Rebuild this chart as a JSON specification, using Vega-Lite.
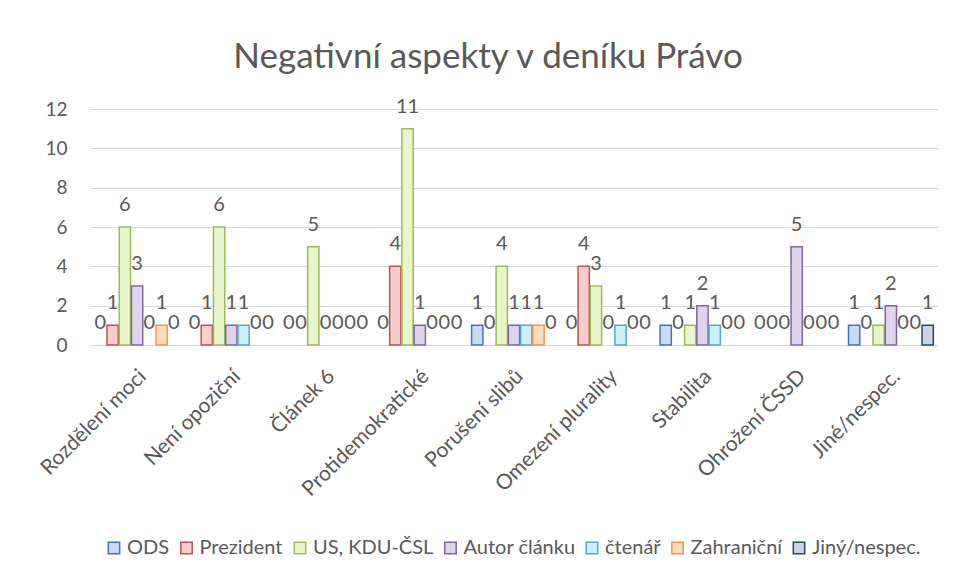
{
  "$schema": "https://vega.github.io/schema/vega-lite/v6.json",
  "width": 848,
  "height": 236,
  "autosize": {"type": "none"},
  "padding": {"left": 90, "top": 109, "right": 17, "bottom": 236},
  "background": "white",
  "title": {
    "text": "Negativní aspekty v deníku Právo",
    "font": "Lato",
    "fontSize": 35,
    "fontWeight": "normal",
    "color": "#595959",
    "anchor": "middle",
    "dx": -26,
    "offset": 22
  },
  "data": {
    "values": [
      {"aspekt": "Rozdělení moci", "aktér": "ODS", "počet": 0},
      {"aspekt": "Rozdělení moci", "aktér": "Prezident", "počet": 1},
      {"aspekt": "Rozdělení moci", "aktér": "US, KDU-ČSL", "počet": 6},
      {"aspekt": "Rozdělení moci", "aktér": "Autor článku", "počet": 3},
      {"aspekt": "Rozdělení moci", "aktér": "čtenář", "počet": 0},
      {"aspekt": "Rozdělení moci", "aktér": "Zahraniční", "počet": 1},
      {"aspekt": "Rozdělení moci", "aktér": "Jiný/nespec.", "počet": 0},
      {"aspekt": "Není opoziční", "aktér": "ODS", "počet": 0},
      {"aspekt": "Není opoziční", "aktér": "Prezident", "počet": 1},
      {"aspekt": "Není opoziční", "aktér": "US, KDU-ČSL", "počet": 6},
      {"aspekt": "Není opoziční", "aktér": "Autor článku", "počet": 1},
      {"aspekt": "Není opoziční", "aktér": "čtenář", "počet": 1},
      {"aspekt": "Není opoziční", "aktér": "Zahraniční", "počet": 0},
      {"aspekt": "Není opoziční", "aktér": "Jiný/nespec.", "počet": 0},
      {"aspekt": "Článek 6", "aktér": "ODS", "počet": 0},
      {"aspekt": "Článek 6", "aktér": "Prezident", "počet": 0},
      {"aspekt": "Článek 6", "aktér": "US, KDU-ČSL", "počet": 5},
      {"aspekt": "Článek 6", "aktér": "Autor článku", "počet": 0},
      {"aspekt": "Článek 6", "aktér": "čtenář", "počet": 0},
      {"aspekt": "Článek 6", "aktér": "Zahraniční", "počet": 0},
      {"aspekt": "Článek 6", "aktér": "Jiný/nespec.", "počet": 0},
      {"aspekt": "Protidemokratické", "aktér": "ODS", "počet": 0},
      {"aspekt": "Protidemokratické", "aktér": "Prezident", "počet": 4},
      {"aspekt": "Protidemokratické", "aktér": "US, KDU-ČSL", "počet": 11},
      {"aspekt": "Protidemokratické", "aktér": "Autor článku", "počet": 1},
      {"aspekt": "Protidemokratické", "aktér": "čtenář", "počet": 0},
      {"aspekt": "Protidemokratické", "aktér": "Zahraniční", "počet": 0},
      {"aspekt": "Protidemokratické", "aktér": "Jiný/nespec.", "počet": 0},
      {"aspekt": "Porušení slibů", "aktér": "ODS", "počet": 1},
      {"aspekt": "Porušení slibů", "aktér": "Prezident", "počet": 0},
      {"aspekt": "Porušení slibů", "aktér": "US, KDU-ČSL", "počet": 4},
      {"aspekt": "Porušení slibů", "aktér": "Autor článku", "počet": 1},
      {"aspekt": "Porušení slibů", "aktér": "čtenář", "počet": 1},
      {"aspekt": "Porušení slibů", "aktér": "Zahraniční", "počet": 1},
      {"aspekt": "Porušení slibů", "aktér": "Jiný/nespec.", "počet": 0},
      {"aspekt": "Omezení plurality", "aktér": "ODS", "počet": 0},
      {"aspekt": "Omezení plurality", "aktér": "Prezident", "počet": 4},
      {"aspekt": "Omezení plurality", "aktér": "US, KDU-ČSL", "počet": 3},
      {"aspekt": "Omezení plurality", "aktér": "Autor článku", "počet": 0},
      {"aspekt": "Omezení plurality", "aktér": "čtenář", "počet": 1},
      {"aspekt": "Omezení plurality", "aktér": "Zahraniční", "počet": 0},
      {"aspekt": "Omezení plurality", "aktér": "Jiný/nespec.", "počet": 0},
      {"aspekt": "Stabilita", "aktér": "ODS", "počet": 1},
      {"aspekt": "Stabilita", "aktér": "Prezident", "počet": 0},
      {"aspekt": "Stabilita", "aktér": "US, KDU-ČSL", "počet": 1},
      {"aspekt": "Stabilita", "aktér": "Autor článku", "počet": 2},
      {"aspekt": "Stabilita", "aktér": "čtenář", "počet": 1},
      {"aspekt": "Stabilita", "aktér": "Zahraniční", "počet": 0},
      {"aspekt": "Stabilita", "aktér": "Jiný/nespec.", "počet": 0},
      {"aspekt": "Ohrožení ČSSD", "aktér": "ODS", "počet": 0},
      {"aspekt": "Ohrožení ČSSD", "aktér": "Prezident", "počet": 0},
      {"aspekt": "Ohrožení ČSSD", "aktér": "US, KDU-ČSL", "počet": 0},
      {"aspekt": "Ohrožení ČSSD", "aktér": "Autor článku", "počet": 5},
      {"aspekt": "Ohrožení ČSSD", "aktér": "čtenář", "počet": 0},
      {"aspekt": "Ohrožení ČSSD", "aktér": "Zahraniční", "počet": 0},
      {"aspekt": "Ohrožení ČSSD", "aktér": "Jiný/nespec.", "počet": 0},
      {"aspekt": "Jiné/nespec.", "aktér": "ODS", "počet": 1},
      {"aspekt": "Jiné/nespec.", "aktér": "Prezident", "počet": 0},
      {"aspekt": "Jiné/nespec.", "aktér": "US, KDU-ČSL", "počet": 1},
      {"aspekt": "Jiné/nespec.", "aktér": "Autor článku", "počet": 2},
      {"aspekt": "Jiné/nespec.", "aktér": "čtenář", "počet": 0},
      {"aspekt": "Jiné/nespec.", "aktér": "Zahraniční", "počet": 0},
      {"aspekt": "Jiné/nespec.", "aktér": "Jiný/nespec.", "počet": 1}
    ]
  },
  "encoding": {
    "x": {
      "field": "aspekt",
      "type": "nominal",
      "sort": ["Rozdělení moci", "Není opoziční", "Článek 6", "Protidemokratické", "Porušení slibů", "Omezení plurality", "Stabilita", "Ohrožení ČSSD", "Jiné/nespec."],
      "scale": {"paddingInner": 0.1, "paddingOuter": 0.05},
      "axis": {
        "title": null,
        "labelAngle": -45,
        "labelAlign": "right",
        "labelBaseline": "middle",
        "labelPadding": 28,
        "labelOffset": 6,
        "labelFont": "Lato",
        "labelFontSize": 21,
        "labelColor": "#595959",
        "labelOverlap": false,
        "ticks": false,
        "domainColor": "#d9d9d9",
        "domainWidth": 1,
        "grid": false
      }
    },
    "xOffset": {
      "field": "aktér",
      "type": "nominal",
      "scale": {"domain": ["ODS", "Prezident", "US, KDU-ČSL", "Autor článku", "čtenář", "Zahraniční", "Jiný/nespec."], "paddingInner": 0.08, "paddingOuter": 0}
    },
    "y": {
      "field": "počet",
      "type": "quantitative",
      "scale": {"domain": [0, 12], "nice": false},
      "axis": {
        "title": null,
        "values": [0, 2, 4, 6, 8, 10, 12],
        "labelFont": "Lato",
        "labelFontSize": 19,
        "labelColor": "#595959",
        "labelPadding": 23,
        "ticks": false,
        "domain": false,
        "grid": true,
        "gridColor": "#d9d9d9",
        "gridWidth": 1
      }
    }
  },
  "layer": [
    {
      "transform": [{"filter": "datum['počet'] > 0"}],
      "mark": {"type": "bar", "strokeWidth": 1.5},
      "encoding": {
        "fill": {
          "field": "aktér",
          "type": "nominal",
          "scale": {
            "domain": ["ODS", "Prezident", "US, KDU-ČSL", "Autor článku", "čtenář", "Zahraniční", "Jiný/nespec."],
            "range": ["#c9daf3", "#f9cdcc", "#e9f6cc", "#ded5ec", "#ccf0f9", "#fddcbd", "#cbd3df"]
          },
          "legend": {
            "title": null,
            "orient": "none",
            "legendX": 14,
            "legendY": 429,
            "direction": "horizontal",
            "columns": 7,
            "symbolType": "square",
            "symbolSize": 130,
            "symbolStrokeWidth": 1.5,
            "labelFont": "Lato",
            "labelFontSize": 20,
            "labelColor": "#595959",
            "labelOffset": 3,
            "columnPadding": 6.5
          }
        },
        "stroke": {
          "field": "aktér",
          "type": "nominal",
          "scale": {
            "domain": ["ODS", "Prezident", "US, KDU-ČSL", "Autor článku", "čtenář", "Zahraniční", "Jiný/nespec."],
            "range": ["#4472c4", "#c0504d", "#9bbb59", "#8064a2", "#4bacc6", "#f79646", "#1f497d"]
          },
          "legend": {
            "title": null,
            "orient": "none",
            "legendX": 14,
            "legendY": 429,
            "direction": "horizontal",
            "columns": 7,
            "symbolType": "square",
            "symbolSize": 130,
            "symbolStrokeWidth": 1.5,
            "labelFont": "Lato",
            "labelFontSize": 20,
            "labelColor": "#595959",
            "labelOffset": 3,
            "columnPadding": 6.5
          }
        }
      }
    },
    {
      "mark": {"type": "text", "baseline": "alphabetic", "dy": -16, "font": "Lato", "fontSize": 20, "color": "#595959"},
      "encoding": {
        "text": {"field": "počet", "type": "quantitative"}
      }
    }
  ],
  "config": {
    "view": {"stroke": null}
  }
}
